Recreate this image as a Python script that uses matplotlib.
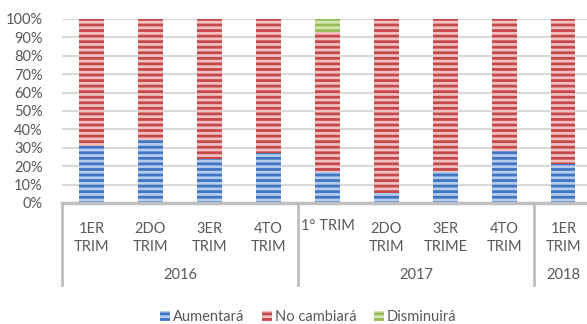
import matplotlib.pyplot as plt
from matplotlib.patches import Patch
import numpy as np

quarters = ["1ER\nTRIM", "2DO\nTRIM", "3ER\nTRIM", "4TO\nTRIM",
            "1° TRIM", "2DO\nTRIM", "3ER\nTRIME", "4TO\nTRIM", "1ER\nTRIM"]
years = ["2016", "2017", "2018"]
year_spans = [(0, 3), (4, 7), (8, 8)]
aumentara = [31, 34, 24, 27, 17, 5.5, 17, 28, 21]
disminuira = [0, 0, 0, 0, 7, 0, 0, 0, 0]
no_cambiara = [100 - a - d for a, d in zip(aumentara, disminuira)]

plt.rcParams['font.family'] = ['Lato', 'DejaVu Sans']
plt.rcParams['hatch.linewidth'] = 2.0
txt = '#595959'
grid = '#D9D9D9'
axc = '#BFBFBF'

fig = plt.figure(figsize=(5.87, 3.24), dpi=100)
ax = fig.add_axes([62/587, 121/324, 1 - 62/587, 184/324])

x = np.arange(len(quarters))
w = 0.41
ax.bar(x, aumentara, w, color='#B4CCEE', edgecolor='#4175C2', hatch='---', linewidth=0)
ax.bar(x, no_cambiara, w, bottom=aumentara, color='#F2C0C0', edgecolor='#C5494A', hatch='---', linewidth=0)
bot2 = [a + n for a, n in zip(aumentara, no_cambiara)]
ax.bar(x, disminuira, w, bottom=bot2, color='#D6E6B2', edgecolor='#98BC55', hatch='---', linewidth=0)

ax.set_xlim(-0.5, 8.4)
ax.set_ylim(0, 100)
ax.set_yticks(range(0, 101, 10))
ax.set_yticklabels([f"{v}%" for v in range(0, 101, 10)])
ax.yaxis.grid(True, color=grid, linewidth=1.5)
ax.set_axisbelow(True)
for s in ['left', 'right', 'top']:
    ax.spines[s].set_visible(False)
ax.spines['bottom'].set_color(axc)
ax.spines['bottom'].set_linewidth(2.5)
ax.tick_params(axis='y', length=0, labelsize=10.5, labelcolor=txt, pad=14)
ax.tick_params(axis='x', length=0)
ax.set_xticks([])

tr = ax.get_xaxis_transform()
px = 1 / 184
for i, q in enumerate(quarters):
    if '\n' in q:
        ax.text(i, -35 * px, q, transform=tr, ha='center', va='center',
                fontsize=10.5, color=txt, linespacing=1.3)
    else:
        ax.text(i, -23 * px, q, transform=tr, ha='center', va='center',
                fontsize=10.5, color=txt)
for yr, (a, b) in zip(years, year_spans):
    ax.text((a + b) / 2, -72 * px, yr, transform=tr, ha='center', va='center',
            fontsize=10.5, color=txt)
for xs in [-0.5, 3.5, 7.5]:
    ax.plot([xs, xs], [0, -82 * px], transform=tr, color=axc, linewidth=2, clip_on=False)

handles = [Patch(facecolor='#B4CCEE', edgecolor='#4175C2', hatch='---', linewidth=0),
           Patch(facecolor='#F2C0C0', edgecolor='#C5494A', hatch='---', linewidth=0),
           Patch(facecolor='#D6E6B2', edgecolor='#98BC55', hatch='---', linewidth=0)]
leg = fig.legend(handles, ["Aumentará", "No cambiará", "Disminuirá"], loc='center',
                 bbox_to_anchor=(308/587, 1 - 317/324), ncol=3, frameon=False,
                 fontsize=10.5, handlelength=0.7, handleheight=0.7, handletextpad=0.2,
                 columnspacing=1.2, labelcolor=txt)

fig.savefig('out.png', dpi=100)
